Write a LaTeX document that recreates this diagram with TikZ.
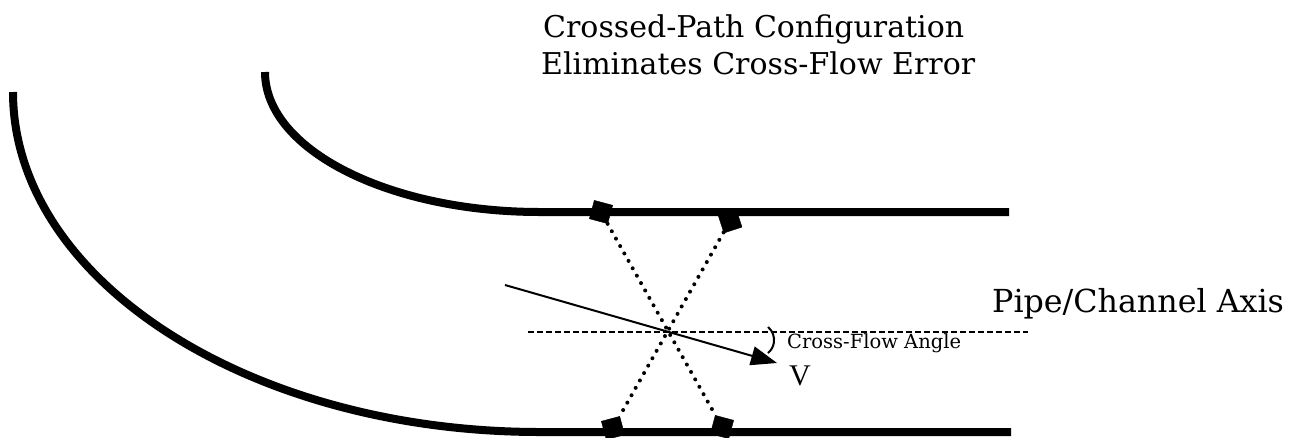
\documentclass[tikz,border=0pt]{standalone}
\usepackage{fontspec}
\setmainfont{DejaVu Serif}
\newfontfamily\vfont{Liberation Serif}
\usetikzlibrary{arrows.meta}

\begin{document}
\begin{tikzpicture}[x = 1pt, y = -1pt,
  wall/.style = {line width = 8pt},
  transducer/.style = {draw, fill = black, minimum size = 19pt, inner sep = 0pt},
  beam/.style = {line width = 4pt, line cap = round, dash pattern = on 0pt off 8.5pt},
  label/.style = {anchor = base west, inner sep = 0pt}]
\useasboundingbox (0, 0) rectangle (1297, 437);
\draw[wall] (265, 72) arc[start angle = 180, end angle = 90, x radius = 275, y radius = 140] -- (1009, 212);
\draw[wall] (13, 92) arc[start angle = 180, end angle = 90, x radius = 527, y radius = 340] -- (1011, 432);
\node[transducer, rotate = -15] (tl) at (601, 212) {};
\node[transducer, rotate = 18] (tr) at (730, 221) {};
\node[transducer, rotate = 15] (bl) at (613, 428) {};
\node[transducer, rotate = -15] (br) at (722, 427) {};
\draw[beam] (tl) -- (br);
\draw[beam] (tr) -- (bl);
\coordinate (axisstart) at (528, 332);
\coordinate (axisend) at (1028, 332);
\draw[line width = 1.2pt, dash pattern = on 6pt off 3pt] (axisstart) -- (axisend);
\coordinate (vstart) at (505, 285);
\coordinate (vend) at (777, 363);
\draw[line width = 2pt, -{Triangle[length = 26pt, width = 19pt]}] (vstart) -- (vend);
\draw[line width = 2pt] (768, 327) arc[start angle = -50, end angle = 50, radius = 17];
\node[label, font = \fontsize{30}{36}\selectfont] (title1) at (543, 37) {Crossed-Path Configuration};
\node[label, font = \fontsize{30}{36}\selectfont] (title2) at (541, 74) {Eliminates Cross-Flow Error};
\node[label, font = \fontsize{31.7}{36}\selectfont] (axis) at (992, 312) {Pipe/Channel Axis};
\node[label, font = \fontsize{19.5}{22}\selectfont] (angle) at (787, 348) {Cross-Flow Angle};
\node[label, font = \vfont\fontsize{30}{36}\selectfont] (v) at (789, 385) {V};
\end{tikzpicture}
\end{document}
